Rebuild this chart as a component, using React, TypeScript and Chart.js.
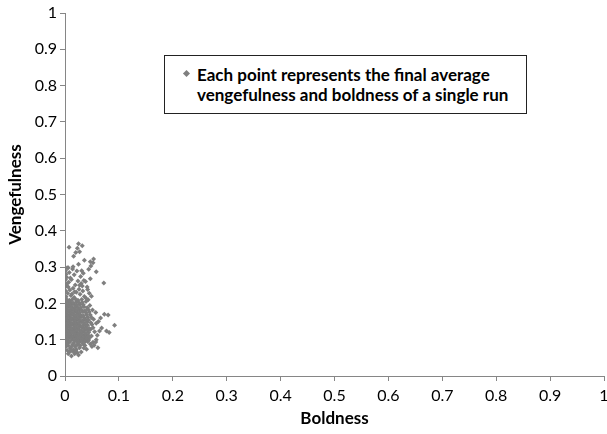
import React, { useEffect, useRef } from "react";
import { Chart, registerables } from "chart.js";

Chart.register(...registerables);

// Final average boldness (x) and vengefulness (y) of each run
const boldness: number[] = [
  0.012, 0.018, 0.008, 0.025, 0.004, 0.015, 0.021, 0.030, 0.010, 0.027,
  0.002, 0.006, 0.011, 0.014, 0.019, 0.023, 0.028, 0.033, 0.037, 0.061,
  0.004, 0.009, 0.016, 0.021, 0.026, 0.031, 0.036, 0.042, 0.047, 0.052,
  0.002, 0.013, 0.018, 0.024, 0.029, 0.034, 0.039, 0.044, 0.007, 0.054,
  0.001, 0.005, 0.009, 0.013, 0.017, 0.021, 0.025, 0.029, 0.033, 0.037, 0.041, 0.046,
  0.003, 0.007, 0.011, 0.015, 0.019, 0.023, 0.027, 0.031, 0.035, 0.039, 0.043, 0.049,
  0.001, 0.005, 0.009, 0.013, 0.017, 0.021, 0.025, 0.029, 0.033, 0.038, 0.044, 0.055,
  0.003, 0.007, 0.011, 0.015, 0.019, 0.023, 0.027, 0.031, 0.036, 0.041, 0.047, 0.064,
  0.001, 0.005, 0.009, 0.013, 0.017, 0.021, 0.025, 0.030, 0.034, 0.039, 0.045, 0.052,
  0.003, 0.007, 0.011, 0.015, 0.019, 0.023, 0.027, 0.032, 0.037, 0.042, 0.050, 0.092,
  0.001, 0.005, 0.009, 0.013, 0.017, 0.021, 0.026, 0.030, 0.035, 0.041, 0.048, 0.058,
  0.003, 0.007, 0.011, 0.015, 0.019, 0.023, 0.028, 0.033, 0.038, 0.044, 0.053,
  0.001, 0.005, 0.009, 0.013, 0.017, 0.022, 0.026, 0.031, 0.036, 0.042, 0.049, 0.073,
  0.003, 0.007, 0.011, 0.015, 0.020, 0.024, 0.029, 0.034, 0.040, 0.047, 0.080,
  0.001, 0.005, 0.009, 0.014, 0.018, 0.023, 0.027, 0.033, 0.039, 0.045,
  0.003, 0.007, 0.012, 0.016, 0.021, 0.026, 0.031, 0.037, 0.043, 0.051,
  0.001, 0.005, 0.010, 0.014, 0.019, 0.024, 0.029, 0.035, 0.041,
  0.003, 0.008, 0.012, 0.017, 0.022, 0.028, 0.034, 0.046,
  0.001, 0.006, 0.010, 0.015, 0.021, 0.026, 0.032, 0.039,
  0.003, 0.008, 0.013, 0.019, 0.024, 0.031, 0.043,
  0.077, 0.082, 0.068, 0.062, 0.066, 0.057, 0.060, 0.058,
  0.002, 0.011, 0.017, 0.028, 0.036, 0.005, 0.021, 0.033, 0.045, 0.009,
  0.015, 0.026, 0.041, 0.002, 0.019, 0.030, 0.072, 0.007, 0.024, 0.038,
  0.012, 0.047, 0.003, 0.029, 0.017, 0.034, 0.058, 0.008, 0.022, 0.031,
  0.044, 0.004, 0.006, 0.015, 0.048, 0.025, 0.052, 0.036, 0.047, 0.053,
  0.016, 0.020, 0.027, 0.0075, 0.025, 0.032, 0.023,
  0.001, 0.004, 0.001, 0.006, 0.002, 0.001,
  0.013, 0.032, 0.039, 0.010, 0.042, 0.014, 0.035, 0.049, 0.018, 0.027,
  0.016, 0.023, 0.006, 0.035, 0.020, 0.050, 0.057, 0.003, 0.040, 0.012,
];

const vengefulness: number[] = [
  0.055, 0.061, 0.066, 0.058, 0.071, 0.068, 0.073, 0.066, 0.076, 0.078,
  0.081, 0.084, 0.079, 0.086, 0.081, 0.087, 0.083, 0.089, 0.084, 0.078,
  0.091, 0.094, 0.090, 0.096, 0.092, 0.097, 0.093, 0.095, 0.088, 0.093,
  0.099, 0.100, 0.098, 0.101, 0.099, 0.102, 0.100, 0.099, 0.097, 0.085,
  0.106, 0.104, 0.107, 0.105, 0.103, 0.106, 0.105, 0.107, 0.104, 0.106, 0.105, 0.107,
  0.111, 0.113, 0.112, 0.110, 0.113, 0.111, 0.112, 0.114, 0.111, 0.113, 0.112, 0.110,
  0.118, 0.120, 0.119, 0.121, 0.118, 0.120, 0.117, 0.119, 0.121, 0.118, 0.120, 0.122,
  0.127, 0.125, 0.126, 0.128, 0.125, 0.127, 0.126, 0.124, 0.127, 0.126, 0.128, 0.124,
  0.132, 0.134, 0.133, 0.131, 0.134, 0.132, 0.133, 0.135, 0.132, 0.134, 0.131, 0.133,
  0.141, 0.139, 0.140, 0.142, 0.139, 0.141, 0.140, 0.138, 0.141, 0.140, 0.142, 0.140,
  0.146, 0.148, 0.147, 0.145, 0.148, 0.146, 0.147, 0.149, 0.146, 0.148, 0.147, 0.145,
  0.155, 0.153, 0.154, 0.156, 0.153, 0.155, 0.154, 0.152, 0.155, 0.154, 0.156,
  0.160, 0.162, 0.161, 0.159, 0.162, 0.160, 0.161, 0.163, 0.160, 0.162, 0.161, 0.170,
  0.169, 0.167, 0.168, 0.170, 0.167, 0.169, 0.168, 0.166, 0.169, 0.168, 0.168,
  0.174, 0.176, 0.175, 0.173, 0.176, 0.174, 0.175, 0.177, 0.174, 0.176,
  0.183, 0.181, 0.182, 0.184, 0.181, 0.183, 0.182, 0.180, 0.183, 0.182,
  0.188, 0.190, 0.189, 0.187, 0.190, 0.188, 0.189, 0.191, 0.188,
  0.197, 0.195, 0.196, 0.198, 0.195, 0.197, 0.196, 0.194,
  0.202, 0.204, 0.203, 0.201, 0.204, 0.202, 0.203, 0.205,
  0.211, 0.209, 0.210, 0.212, 0.209, 0.211, 0.210,
  0.124, 0.120, 0.132, 0.150, 0.160, 0.175, 0.112, 0.100,
  0.218, 0.222, 0.216, 0.225, 0.219, 0.228, 0.231, 0.234, 0.228, 0.237,
  0.242, 0.239, 0.245, 0.247, 0.251, 0.255, 0.256, 0.258, 0.262, 0.260,
  0.266, 0.268, 0.272, 0.274, 0.279, 0.283, 0.287, 0.285, 0.289, 0.290,
  0.294, 0.298, 0.298, 0.301, 0.303, 0.308, 0.312, 0.319, 0.315, 0.322,
  0.330, 0.340, 0.342, 0.355, 0.364, 0.359, 0.352,
  0.235, 0.255, 0.265, 0.245, 0.280, 0.290,
  0.226, 0.248, 0.214, 0.270, 0.238, 0.295, 0.263, 0.220, 0.232, 0.250,
  0.072, 0.064, 0.061, 0.077, 0.069, 0.081, 0.094, 0.088, 0.074, 0.070,
];

const axisMin = 0;
const axisMax = 1;
const tickStep = 0.1;

const xTitle = "Boldness";
const yTitle = "Vengefulness";
const legendLines = [
  "Each point represents the final average",
  "vengefulness and boldness of a single run",
];

const FONT = "Lato, 'Liberation Sans', sans-serif";
const AXIS_GREY = "#868686";
const POINT_GREY = "#7f7f7f";

export default function App() {
  const canvasRef = useRef<HTMLCanvasElement>(null);

  useEffect(() => {
    const canvas = canvasRef.current;
    if (!canvas) return;
    const points = boldness.map((x, i) => ({ x, y: vengefulness[i] }));
    const fmt = (v: any) => String(Math.round(Number(v) * 10) / 10);

    const chart = new Chart(canvas, {
      type: "scatter",
      data: {
        datasets: [
          {
            label: legendLines.join(" "),
            data: points,
            pointStyle: "rectRot",
            pointRadius: 2.5,
            pointHoverRadius: 2.5,
            backgroundColor: POINT_GREY,
            borderColor: POINT_GREY,
            borderWidth: 0,
          },
        ],
      },
      options: {
        animation: false,
        responsive: false,
        maintainAspectRatio: false,
        layout: { padding: { top: 13, right: 3, bottom: 0, left: 0 } },
        plugins: {
          legend: { display: false },
          tooltip: { enabled: false },
        },
        scales: {
          x: {
            type: "linear",
            min: axisMin,
            max: axisMax,
            ticks: {
              stepSize: tickStep,
              color: "#000",
              font: { family: FONT, size: 16 },
              padding: 5,
              maxRotation: 0,
              autoSkip: false,
              callback: fmt,
            },
            grid: {
              display: true,
              drawOnChartArea: false,
              tickLength: 5,
              color: AXIS_GREY,
            },
            border: { display: true, color: AXIS_GREY, width: 1 },
            title: {
              display: true,
              text: xTitle,
              color: "#000",
              font: { family: FONT, size: 17, weight: "bold" },
              padding: { top: 4, bottom: 5 },
            },
            afterFit: (s: any) => {
              s.height = 58;
              s.paddingLeft = 0;
              s.paddingRight = 0;
            },
          },
          y: {
            type: "linear",
            min: axisMin,
            max: axisMax,
            ticks: {
              stepSize: tickStep,
              color: "#000",
              font: { family: FONT, size: 16 },
              padding: 3,
              autoSkip: false,
              callback: fmt,
            },
            grid: {
              display: true,
              drawOnChartArea: false,
              tickLength: 5,
              color: AXIS_GREY,
            },
            border: { display: true, color: AXIS_GREY, width: 1 },
            title: {
              display: true,
              text: yTitle,
              color: "#000",
              font: { family: FONT, size: 17, weight: "bold" },
              padding: { top: 5, bottom: 0 },
            },
            afterFit: (s: any) => {
              s.width = 65;
              s.paddingTop = 0;
              s.paddingBottom = 0;
            },
          },
        },
      },
    });
    return () => chart.destroy();
  }, []);

  return (
    <div
      style={{
        position: "fixed",
        left: 0,
        top: 0,
        width: 607,
        height: 434,
        background: "#fff",
        overflow: "hidden",
      }}
    >
      <canvas
        ref={canvasRef}
        width={607}
        height={434}
        style={{ display: "block", width: 607, height: 434 }}
      />
      <div
        style={{
          position: "absolute",
          left: 164,
          top: 55,
          width: 361,
          height: 57,
          border: "1px solid #222",
          background: "#fff",
          boxSizing: "content-box",
        }}
      >
        <div
          style={{
            position: "absolute",
            left: 19,
            top: 15,
            width: 5,
            height: 5,
            background: POINT_GREY,
            transform: "rotate(45deg)",
          }}
        />
        <div
          style={{
            position: "absolute",
            left: 32,
            top: 9,
            fontFamily: FONT,
            fontWeight: "bold",
            fontSize: 17,
            lineHeight: "20px",
            color: "#000",
            whiteSpace: "nowrap",
          }}
        >
          {legendLines.map((t, i) => (
            <div key={i}>{t}</div>
          ))}
        </div>
      </div>
    </div>
  );
}
